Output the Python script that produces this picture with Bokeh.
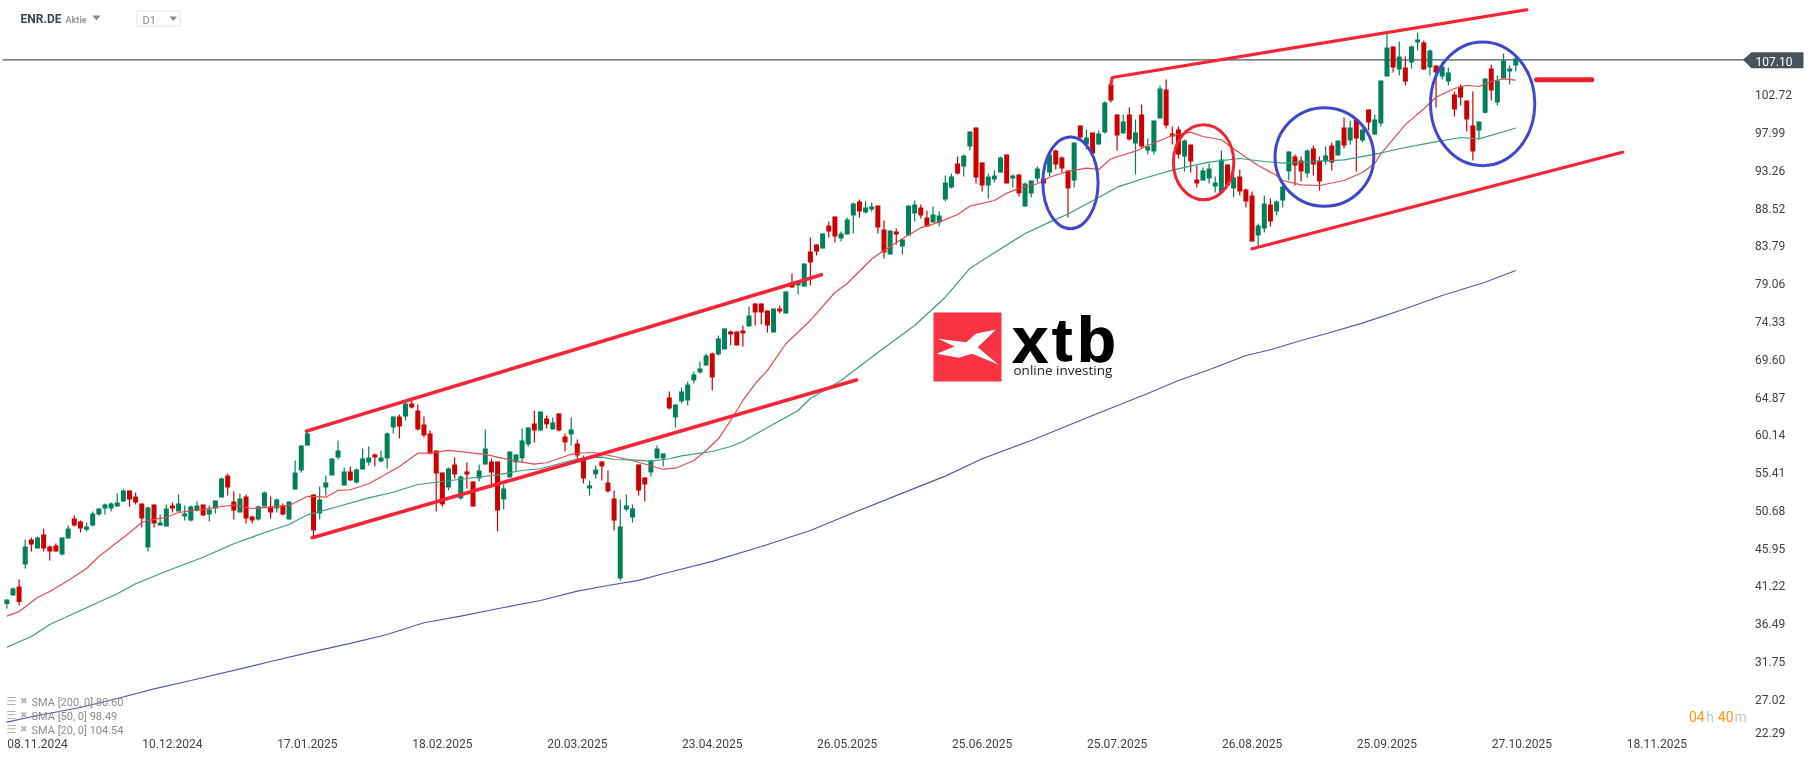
from bokeh.core.properties import value
from bokeh.embed import file_html
from bokeh.models import ColumnDataSource, FixedTicker, LinearAxis, Range1d
from bokeh.plotting import figure
from bokeh.resources import INLINE

# ---------- data ----------
opens = [38.94,40.02,41.15,43.91,47.04,45.91,47.66,46.16,46.29,45.16,
47.16,49.67,49.29,48.25,48.79,50.17,50.92,50.92,51.17,51.79,
53.17,52.42,51.54,46.03,51.42,48.79,48.66,51.29,50.54,49.92,
49.41,50.67,51.42,50.17,50.92,52.30,55.05,51.79,50.42,52.42,
49.92,49.54,51.16,51.16,50.91,51.29,49.54,53.29,55.67,58.80,
52.67,50.29,53.54,55.05,57.30,53.79,55.55,54.17,55.80,56.67,
57.68,56.80,57.18,61.06,62.43,62.43,64.06,63.19,61.43,60.31,
58.18,55.42,53.54,56.42,52.17,55.55,54.30,54.67,56.42,56.80,
56.80,52.04,54.80,56.68,57.18,58.93,61.56,60.68,62.19,60.81,
62.81,59.93,60.18,59.06,57.05,53.42,55.18,56.80,54.17,52.17,
42.15,50.79,49.79,56.43,54.80,55.43,57.18,57.18,64.82,62.31,
64.32,64.44,66.95,67.95,68.82,70.33,70.20,70.83,73.08,73.08,
73.21,73.71,76.59,76.59,75.71,72.95,75.96,75.33,79.21,78.84,
78.71,83.09,83.97,83.47,86.35,87.48,84.72,85.22,87.60,89.36,
87.98,88.35,88.86,85.85,82.72,85.60,83.72,85.10,87.85,88.60,
87.35,86.73,86.73,89.61,91.11,94.11,93.74,96.24,98.62,94.24,
91.36,92.11,92.99,95.24,92.24,92.74,88.74,90.37,92.24,92.24,
93.00,95.75,94.87,93.25,91.99,98.88,96.50,98.00,96.50,98.00,
104.00,100.26,97.88,100.26,96.63,100.26,95.75,95.62,99.76,103.39,
97.88,98.38,94.99,96.50,92.12,91.99,92.24,91.24,90.49,94.00,
91.00,92.49,90.87,90.12,85.11,85.98,88.99,88.11,89.48,93.12,
95.00,94.50,92.87,96.00,94.50,94.37,96.37,95.12,98.63,97.00,
99.63,97.00,100.88,97.75,99.13,105.01,108.77,105.89,106.14,106.77,
109.27,109.27,106.14,106.39,105.01,104.39,102.76,103.76,102.01,98.88,
98.25,100.46,106.02,101.76,104.76,105.64,106.39]

closes = [39.52,40.90,39.19,46.16,46.41,47.29,45.91,45.53,45.53,47.29,
48.41,48.79,48.41,48.66,50.29,50.92,51.42,51.54,51.67,53.17,
52.05,51.67,49.67,51.04,49.04,49.17,50.92,50.92,51.54,50.29,
51.17,51.29,50.04,50.79,51.92,54.67,53.55,50.67,52.17,49.67,
49.41,51.17,52.92,50.41,52.04,50.16,51.79,55.42,58.80,60.31,
48.16,52.04,54.17,57.18,58.18,55.55,54.42,55.80,57.18,57.30,
57.30,57.30,60.31,62.43,61.18,64.06,63.56,60.81,60.06,57.80,
55.30,51.42,55.92,55.17,54.92,55.17,51.16,55.67,58.43,55.42,
50.66,53.42,58.05,57.68,59.43,61.06,60.68,63.06,61.44,61.69,
60.68,59.18,60.81,57.55,54.67,53.80,55.80,56.18,53.05,49.41,
48.66,51.29,50.92,53.17,53.92,56.93,58.43,57.80,63.44,63.94,
65.57,66.44,67.70,68.45,70.08,67.32,72.21,73.46,72.71,71.33,
72.83,75.09,75.46,75.46,73.83,75.96,75.58,78.09,78.59,79.21,
81.59,81.72,83.09,85.35,85.60,84.97,85.35,87.10,89.11,88.10,
88.60,88.73,86.10,82.97,85.72,85.22,84.60,88.86,88.98,87.60,
86.23,87.73,87.60,91.74,92.49,92.86,95.12,98.12,92.36,91.36,
92.49,92.61,94.87,91.61,92.61,90.36,91.62,91.99,93.50,91.62,
95.25,94.00,93.50,91.00,96.75,97.38,97.38,95.37,97.88,101.76,
102.00,97.63,99.38,97.13,98.00,96.25,96.25,99.51,103.51,98.88,
97.50,95.25,97.00,94.37,91.62,93.25,93.50,91.74,94.62,91.37,
92.37,90.62,89.36,84.35,86.36,89.11,86.86,89.36,91.24,95.62,
93.87,93.12,95.75,94.00,91.87,95.12,94.25,97.00,96.37,98.63,
97.25,98.38,99.25,99.63,104.51,108.65,106.14,107.52,104.39,108.77,
109.65,105.89,108.27,105.51,106.27,105.51,100.88,102.38,99.63,95.62,
99.38,104.76,103.26,104.51,107.02,106.02,107.27]

highs = [39.52,41.03,42.03,47.04,47.29,47.41,48.41,46.29,46.54,47.29,
48.79,50.04,49.42,49.17,50.54,50.92,51.54,51.67,52.80,53.30,
53.17,52.92,51.54,51.17,51.42,50.17,51.42,51.67,52.67,51.29,
51.29,51.79,51.42,51.29,51.92,54.80,55.30,53.05,52.80,52.67,
50.04,51.29,53.04,52.42,52.17,51.54,51.79,56.92,58.80,60.68,
52.67,53.67,55.05,57.18,59.43,56.05,56.17,55.92,58.43,58.68,
57.80,58.18,60.43,62.43,62.68,64.31,64.44,63.94,62.43,60.68,
58.18,55.42,56.05,57.30,55.05,56.67,54.30,56.42,60.81,57.18,
56.80,53.92,58.05,57.68,60.94,61.06,63.19,63.06,62.56,62.31,
62.81,60.31,62.31,59.56,57.55,54.42,56.30,56.80,55.68,53.17,
52.04,52.67,51.42,56.43,54.80,57.05,58.81,57.80,65.57,63.94,
66.07,66.82,68.07,69.33,70.33,70.45,72.58,73.46,73.21,73.08,
73.83,76.21,76.59,76.59,75.71,75.96,76.33,78.09,80.34,79.21,
81.59,84.85,83.97,85.35,86.85,87.48,85.60,87.35,89.23,89.61,
89.36,89.23,88.86,86.98,85.72,85.98,84.72,88.86,89.48,88.98,
88.23,88.73,88.10,92.61,92.86,94.99,95.24,98.12,98.62,94.24,
92.86,93.24,94.99,95.24,92.74,92.74,91.74,91.99,93.75,92.24,
95.25,95.88,95.00,93.25,96.75,98.88,98.38,98.00,98.25,101.89,
104.00,100.26,100.26,101.13,99.63,101.51,97.25,99.51,103.89,104.64,
98.76,98.76,97.13,96.50,93.87,93.62,94.12,92.49,95.75,94.00,
93.25,93.37,90.99,90.62,86.61,90.12,89.74,89.50,91.36,95.62,
95.25,95.00,95.87,96.37,95.00,96.25,96.75,97.00,99.88,99.50,
99.63,98.50,100.88,100.26,104.51,110.40,108.77,109.40,107.52,108.90,
110.52,109.52,108.39,106.39,106.89,106.14,103.14,104.01,102.01,103.14,
99.38,104.76,106.52,105.14,107.89,106.39,107.64]

lows = [38.40,40.02,38.77,43.41,45.53,45.91,45.53,44.41,45.53,45.03,
47.16,48.66,47.91,48.04,48.66,50.00,50.17,50.54,51.17,51.79,
51.17,51.42,48.54,45.53,48.54,48.79,48.66,50.42,50.54,49.41,
49.29,50.54,50.04,49.29,50.29,52.30,52.55,49.54,50.42,49.04,
49.04,49.41,51.16,49.66,50.41,50.04,49.54,53.29,55.42,58.80,
47.28,49.54,52.54,55.05,57.05,53.79,54.42,54.04,55.80,56.30,
56.17,56.67,55.92,60.31,59.68,61.93,63.44,60.68,59.80,57.68,
50.54,51.16,53.17,54.67,52.04,53.42,51.16,54.30,56.42,53.92,
48.03,50.79,54.80,55.55,56.68,58.68,59.18,60.68,60.94,60.81,
60.56,58.05,58.81,56.93,54.05,52.54,54.67,54.42,52.92,48.16,
41.90,50.54,49.16,52.54,51.79,54.92,57.18,56.18,63.31,61.06,
64.07,63.81,66.57,67.82,68.82,65.69,70.08,70.83,71.33,71.33,
71.20,73.71,73.83,73.96,72.95,72.95,75.33,75.33,78.59,77.71,
78.71,78.84,82.59,83.47,84.85,84.22,84.35,85.22,85.35,87.35,
87.85,88.10,85.35,82.22,82.72,83.97,82.72,85.10,86.85,87.23,
86.23,86.73,86.23,89.36,90.98,92.74,92.49,95.74,91.61,90.61,
89.73,91.74,92.99,91.61,91.11,89.98,88.74,89.86,91.74,91.62,
92.49,93.37,93.00,87.36,91.12,97.00,95.88,95.25,96.50,97.88,
101.76,95.75,97.88,97.00,92.74,96.00,95.25,95.25,99.76,98.51,
96.50,94.75,93.12,93.00,91.12,91.99,91.62,90.49,90.49,91.24,
89.86,90.12,88.61,84.35,83.73,85.48,86.23,87.60,88.65,92.00,
91.36,91.87,92.37,92.62,90.74,94.00,93.24,95.12,96.00,96.50,
93.12,96.75,98.25,97.75,98.75,105.01,105.51,105.14,103.89,106.02,
108.27,105.89,105.14,101.13,104.64,103.89,100.00,101.38,98.13,94.50,
97.12,100.38,102.01,101.38,104.76,104.01,105.64]

sma20_bars = [0,2,5,7,10,13,15,18,20,22,23,26,28,32,35,37,40,43,46,49,52,54,56,59,64,67,69,72,75,78,80,83,86,88,92,94,96,99,102,107,109,112,114,116,118,120,122,124,127,131,135,137,141,143,146,149,152,155,157,161,163,165,168,170,173,176,178,180,184,186,190,193,195,198,200,204,207,208,211,214,218,221,223,224,228,231,233,236,238,240,242,244,246]
sma20_vals = [37.43,38.0,39.77,40.52,41.90,43.40,44.90,46.69,47.87,49.16,49.41,49.79,50.41,50.79,51.16,51.33,50.91,51.08,51.29,52.42,52.33,53.17,53.26,54.01,56.17,57.84,57.84,58.18,57.93,57.68,57.34,56.84,56.46,56.64,57.71,57.89,57.89,57.42,56.92,55.83,55.96,56.92,58.18,59.64,61.93,64.44,66.53,68.20,71.54,74.46,77.96,79.09,82.16,83.22,84.69,86.06,86.77,87.73,88.77,89.48,90.40,90.99,91.58,92.40,93.15,93.53,93.37,94.71,95.66,96.37,97.62,98.04,97.50,97.09,95.96,93.87,92.61,91.99,91.45,91.36,91.99,92.99,94.12,95.33,98.98,100.98,102.42,103.51,103.89,103.76,104.39,104.72,104.57]

sma50_bars = [0,4,7,13,18,21,26,32,37,43,46,49,54,59,63,67,71,75,80,84,87,92,94,97,99,102,105,108,110,115,118,120,124,129,131,136,142,148,153,157,159,166,170,173,178,181,186,190,196,201,205,208,214,218,223,227,232,237,240,243,246]
sma50_vals = [33.54,34.88,36.39,38.48,40.23,41.48,43.06,44.81,46.49,48.16,48.91,50.12,51.16,52.25,52.95,53.92,54.29,54.67,55.13,55.67,55.89,56.92,57.26,57.34,57.05,57.01,56.84,57.14,57.51,58.05,58.68,59.30,61.06,63.19,64.69,66.94,70.45,73.83,77.37,80.97,81.97,85.35,86.77,87.79,89.86,91.15,92.40,93.28,94.28,94.74,94.37,94.16,94.41,94.58,95.25,95.96,96.71,97.37,97.21,97.87,98.56]

sma200_bars = [0,5,12,18,24,30,37,43,49,56,62,68,74,81,87,93,98,103,107,115,123,126,131,138,146,153,159,167,177,186,191,196,202,206,211,215,221,228,234,241,246]
sma200_vals = [24.15,24.99,25.99,27.12,28.33,29.37,30.63,31.75,32.84,34.01,35.13,36.60,37.43,38.51,39.39,40.56,41.27,41.90,42.74,44.28,46.15,46.91,48.16,50.37,52.83,54.96,57.14,59.43,62.56,65.31,66.94,68.28,70.07,70.79,71.95,72.79,74.12,75.92,77.59,79.25,80.72]

date_bars = [0,22,44,66,88,110,132,154,176,198,220,242,264]
date_labels = ["08.11.2024","10.12.2024","17.01.2025","18.02.2025","20.03.2025","23.04.2025","26.05.2025","25.06.2025","25.07.2025","26.08.2025","25.09.2025","27.10.2025","18.11.2025"]
price_ticks = [102.72,97.99,93.26,88.52,83.79,79.06,74.33,69.60,64.87,60.14,55.41,50.68,45.95,41.22,36.49,31.75,27.02,22.89]
price_labels = ["102.72","97.99","93.26","88.52","83.79","79.06","74.33","69.60","64.87","60.14","55.41","50.68","45.95","41.22","36.49","31.75","27.02","22.29"]
last_price = 107.10
legend_rows = ["SMA [200, 0] 80.60","SMA [50, 0] 98.49","SMA [20, 0] 104.54"]

channel_upper_1 = ([48.85,132.8],[60.6,80.18])
channel_lower_1 = ([49.8,138.5],[47.25,67.0])
channel_upper_2 = ([180.0,180.2,247.8],[104.0,104.89,113.37])
channel_lower_2 = ([203.0,263.4],[83.44,95.53])
target_level = ([249.4,258.4],[104.6,104.6])

ring_x = [173.4,195.1,214.8,240.6]
ring_y = [91.70,94.28,94.93,101.59]
ring_w = [9.0,9.85,16.1,17.0]
ring_h = [11.5,9.4,12.35,15.5]
ring_color = ["#3f48cc","#f02433","#3f48cc","#3f48cc"]

# ---------- pixel <-> data helpers for the page furniture ----------
STEP, X0 = 6.134, 6.33
K, P0 = 7.985, 114.53
def dx(px): return (px - X0) / STEP
def dy(py): return P0 - py / K

GREEN, RED = "#00805a", "#cc0000"
FRAME_W, FRAME_H = 1815, 737

p = figure(output_backend="svg", toolbar_location=None,
           frame_width=FRAME_W, frame_height=FRAME_H,
           x_range=Range1d(dx(0), dx(FRAME_W)), y_range=Range1d(dy(FRAME_H), dy(0)),
           x_axis_location=None, y_axis_location=None,
           min_border_left=0, min_border_top=0, min_border_right=0, min_border_bottom=761-FRAME_H,
           background_fill_color="white", border_fill_color="white")
p.outline_line_color = None
p.grid.visible = False
p.styles = {"position": "fixed", "left": "0px", "top": "0px"}

# last price tag sits under the axis layer
p.line([dx(2), dx(1745)], [last_price, last_price], line_color="#4c5660", line_width=1.1)

# axes
xa = LinearAxis(ticker=FixedTicker(ticks=[b + 5 for b in date_bars]),
                major_label_overrides={b + 5: t for b, t in zip(date_bars, date_labels)})
ya = LinearAxis(ticker=FixedTicker(ticks=price_ticks), fixed_location=dx(1750.5),
                major_label_overrides=dict(zip(price_ticks, price_labels)))
for ax in (xa, ya):
    ax.axis_line_color = None
    ax.major_tick_line_color = None
    ax.minor_tick_line_color = None
    ax.major_tick_in = 0
    ax.major_tick_out = 0
    ax.major_label_text_font = "Roboto"
    ax.major_label_text_font_size = "12px"
    ax.major_label_text_color = "#3c434a"
xa.major_label_standoff = 1
ya.major_label_standoff = 4
p.add_layout(xa, "below")
p.add_layout(ya, "right")

# candles
idx = list(range(len(opens)))
src = ColumnDataSource(dict(
    x=idx, high=highs, low=lows,
    top=[max(o, c) for o, c in zip(opens, closes)],
    bottom=[min(o, c) for o, c in zip(opens, closes)],
    color=[GREEN if c >= o else RED for o, c in zip(opens, closes)]))
p.segment("x", "high", "x", "low", color="color", line_width=1.2, source=src)
p.vbar("x", 5 / STEP, "top", "bottom", fill_color="color", line_color=None, source=src)

# moving averages
p.line(sma20_bars, sma20_vals, line_color="#e54b4b", line_width=1.2)
p.line(sma50_bars, sma50_vals, line_color="#3a9c7e", line_width=1.2)
p.line(sma200_bars, sma200_vals, line_color="#5358b0", line_width=1.2)

def txt(x, y, s, size, color, font="Roboto", style="normal", align="left"):
    p.text([dx(x)], [dy(y)], text=[s], text_font=value(font), text_font_style=style, text_font_size=f"{size}px",
           text_color=color, text_align=align, text_baseline="middle")

# last price tag
tag_top, tag_bottom = dy(51.7), dy(67.7)
p.patch([dx(1742.4), dx(1751), dx(1803), dx(1803), dx(1751)],
        [last_price, tag_top, tag_top, tag_bottom, tag_bottom], fill_color="#46525c", line_color=None)
txt(1755, 60.5, "107.10", 12, "white")

# drawn annotations
for xs, ys in (channel_upper_1, channel_lower_1):
    p.line(xs, ys, line_color="#f62434", line_width=3.6, line_cap="round")
for xs, ys in (channel_upper_2, channel_lower_2):
    p.line(xs, ys, line_color="#f62434", line_width=3.2, line_cap="round")
p.line(*target_level, line_color="#e8202e", line_width=5, line_cap="round")
p.ellipse(ring_x, ring_y, width=ring_w, height=ring_h, fill_alpha=0, line_color=ring_color, line_width=3)

# logo
p.quad(left=[dx(933)], right=[dx(1001)], top=[dy(312)], bottom=[dy(381)], fill_color="#f93342", line_color=None)
logo_X = [862,935,960,1012,965,1018,950,915,858,905]
logo_Y = [1015,1025,1000,987,1040,1092,1060,1072,1060,1038]
p.patch([dx(605 + a / 2.592) for a in logo_X], [dy(b / 3) for b in logo_Y], fill_color="white", line_color=None)

for off in (0, 0.8):
    txt(1011 + off, 339, "x", 66, "#000000", "Liberation Sans", "bold")
    txt(1051 + off, 339, "t", 62, "#000000", "Liberation Sans", "bold")
    txt(1076 + off, 339, "b", 64, "#000000", "Liberation Sans", "bold")
txt(1013, 369.5, "online investing", 13.5, "#222222", "Open Sans")

# header
txt(20, 18.5, "ENR.DE", 12, "#37464f", "Roboto", "bold")
txt(65, 19.5, "Aktie", 9, "#9a9a9a", "Roboto", "bold")
p.patch([dx(92), dx(100), dx(96)], [dy(15), dy(15), dy(20)], fill_color="#8a8a8a", line_color=None)
p.quad(left=[dx(136.5)], right=[dx(179.5)], top=[dy(10.5)], bottom=[dy(25.5)], fill_color="white", line_color="#e4e4e4", line_width=1)
txt(142, 19.5, "D1", 11, "#8a8a8a")
p.patch([dx(169), dx(176.5), dx(172.7)], [dy(16), dy(16), dy(20.5)], fill_color="#8a8a8a", line_color=None)

# legend
for row, yy in zip(legend_rows, (701.3, 715.3, 729.3)):
    txt(6, yy, "\u2630", 11, "#b0b0b0", "DejaVu Sans")
    txt(19.5, yy - 1, "\u2716", 9, "#b4b4b4", "DejaVu Sans")
    txt(31, yy + 0.5, row, 11, "#8a8a8a")

# countdown
txt(1688.4, 716, "04", 14, "#ff9612")
txt(1705.8, 716, "h", 14, "#c4c4c4")
txt(1717.3, 716, "40", 14, "#ff9612")
txt(1734, 716, "m", 14, "#c4c4c4")

open("out.html", "w").write(file_html(p, INLINE))
